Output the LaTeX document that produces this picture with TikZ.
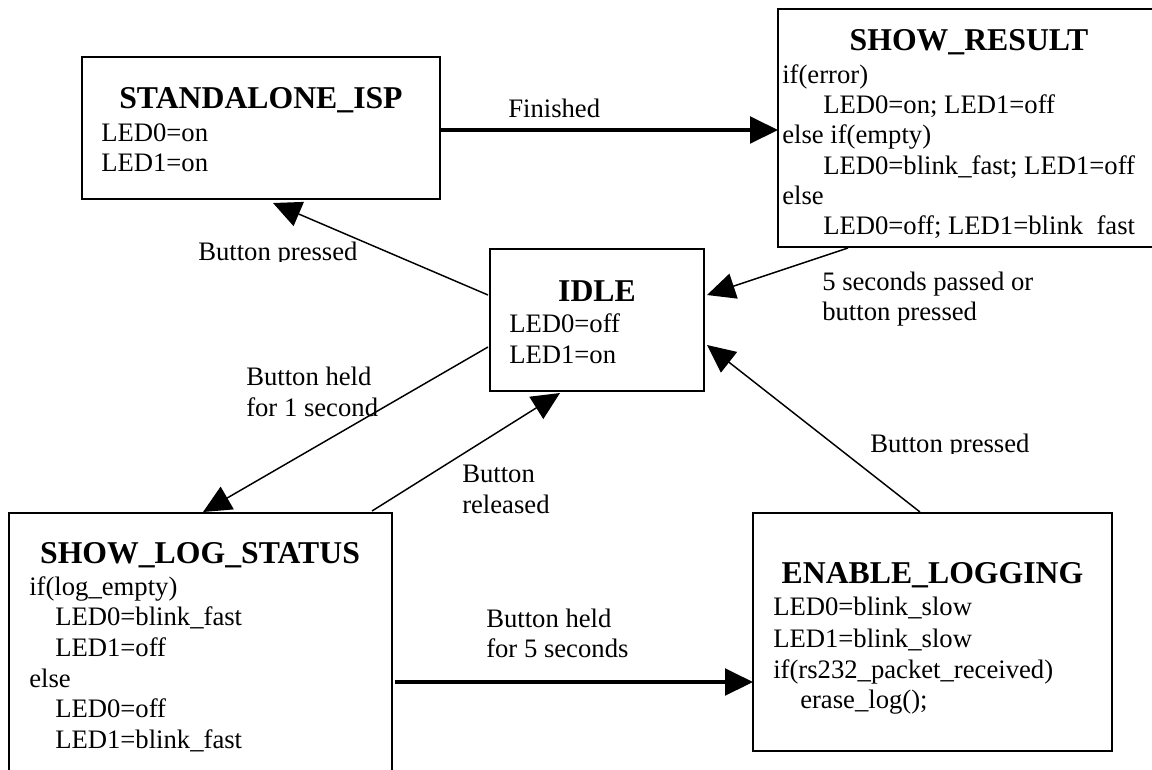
\documentclass[tikz,border=0pt]{standalone}
\usepackage{fontspec}
\setmainfont{Liberation Serif}
\usetikzlibrary{arrows.meta,calc}
\begin{document}
\begin{tikzpicture}[x=0.75pt,y=-0.75pt,
  box/.style={draw,line width=1.5pt,rectangle,inner sep=0pt,outer sep=0pt,anchor=north west},
  ttl/.style={font=\fontsize{23.8}{28}\selectfont\bfseries,inner sep=0pt,anchor=base},
  txt/.style={font=\fontsize{20}{23}\selectfont,inner sep=0pt,anchor=base west},
  thinarrow/.style={line width=1.1pt,-{Triangle[length=21pt,width=19.5pt]}},
  thickarrow/.style={line width=2.5pt,-{Triangle[length=21pt,width=20pt]}}]
\useasboundingbox (0,0) rectangle (1152,769);
\begin{scope}
\clip (0,0) rectangle (1152,769);
% boxes
\node[box,minimum width=268.5pt,minimum height=106.5pt] (isp) at (82,57) {};
\node[box,minimum width=283.5pt,minimum height=178.5pt] (result) at (778,9) {};
\node[box,minimum width=160.5pt,minimum height=106.5pt] (idle) at (490,249) {};
\node[box,minimum width=287.25pt,minimum height=225pt] (log) at (9,513) {};
\node[box,minimum width=269.25pt,minimum height=178.5pt] (enable) at (753,513) {};

% STANDALONE_ISP text
\node[ttl] (ispT) at (261,108) {STANDALONE\_ISP};
\node[txt] (ispA) at (101,141.5) {LED0=on};
\node[txt] (ispB) at (101,171.5) {LED1=on};

% SHOW_RESULT text
\node[ttl] (resT) at (969,50) {SHOW\_RESULT};
\node[txt] (resA) at (782,83) {if(error)};
\node[txt] (resB) at (823,113) {LED0=on; LED1=off};
\node[txt] (resC) at (782,143.5) {else if(empty)};
\node[txt] (resD) at (823,174) {LED0=blink\_fast; LED1=off};
\node[txt] (resE) at (782,204) {else};
\node[txt] (resF) at (823,234.5) {LED0=off; LED1=blink\hspace{0.5em}fast};

% IDLE text
\node[ttl] (idleT) at (597,301) {IDLE};
\node[txt] (idleA) at (509,332) {LED0=off};
\node[txt] (idleB) at (509,363) {LED1=on};

% SHOW_LOG_STATUS text
\node[ttl] (logT) at (200,563) {SHOW\_LOG\_STATUS};
\node[txt] (logA) at (29,595) {if(log\_empty)};
\node[txt] (logB) at (55,625.5) {LED0=blink\_fast};
\node[txt] (logC) at (55,656) {LED1=off};
\node[txt] (logD) at (29,687) {else};
\node[txt] (logE) at (55,717.5) {LED0=off};
\node[txt] (logF) at (55,748) {LED1=blink\_fast};

% ENABLE_LOGGING text
\node[ttl] (enT) at (932.5,583) {ENABLE\_LOGGING};
\node[txt] (enA) at (773,615) {LED0=blink\_slow};
\node[txt] (enB) at (773,647) {LED1=blink\_slow};
\node[txt] (enC) at (773,678) {if(rs232\_packet\_received)};
\node[txt] (enD) at (800,708) {erase\_log();};

% connectors
\draw[thickarrow] ($(isp.north east)+(1,73)$) -- ($(result.north west)+(0,121)$);
\draw[thickarrow] ($(log.north east)+(3,169)$) -- ($(enable.north west)+(0,169)$);
\draw[thinarrow] ($(idle.north west)+(-2,46)$) -- ($(isp.south west)+(191,4)$);
\draw[thinarrow] ($(idle.north west)+(-2,98)$) -- ($(log.north west)+(194,-1)$);
\draw[thinarrow] ($(log.north west)+(363,-2)$) -- ($(idle.south west)+(70,2)$);
\draw[thinarrow] ($(enable.north west)+(167,-1)$) -- ($(idle.north east)+(3,96)$);
\draw[thinarrow] ($(result.south west)+(70,1)$) -- ($(idle.north east)+(3,46)$);

% labels
\node[txt] (lFin) at (508,117) {Finished};
\node[txt] (l5a) at (822,290) {5 seconds passed or};
\node[txt] (l5b) at (822,320) {button pressed};
\begin{scope}
\clip (180,220) rectangle (380,261);
\node[txt] (lBp1) at (198,260) {Button pressed};
\end{scope}
\begin{scope}
\clip (850,410) rectangle (1060,453);
\node[txt] (lBp2) at (870,452) {Button pressed};
\end{scope}
\node[txt] (lH1a) at (246,385) {Button held};
\node[txt] (lH1b) at (246,416) {for 1 second};
\node[txt] (lRa) at (462,482) {Button};
\node[txt] (lRb) at (462,513) {released};
\node[txt] (lH5a) at (486,627) {Button held};
\node[txt] (lH5b) at (486,657) {for 5 seconds};
\end{scope}
\end{tikzpicture}
\end{document}
